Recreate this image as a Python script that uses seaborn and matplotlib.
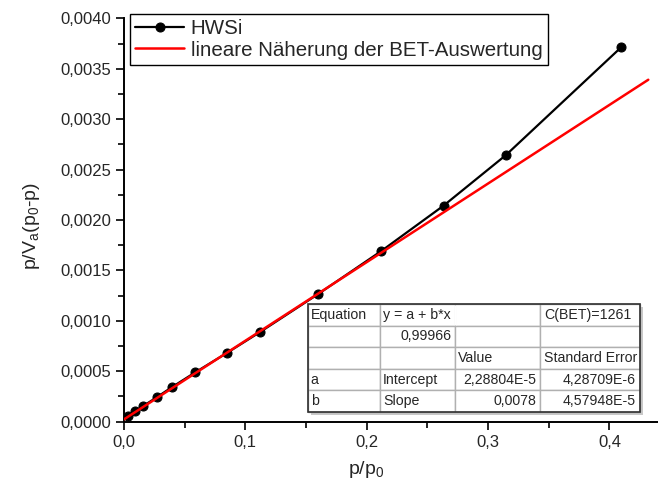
import numpy as np
import pandas as pd
import seaborn as sns
import matplotlib.pyplot as plt
import matplotlib.ticker as ticker
from matplotlib.patches import Rectangle

# BET data
rel_pressure = [0.0036, 0.0091, 0.0159, 0.0270, 0.0393, 0.0588, 0.0852,
                0.1122, 0.1597, 0.2120, 0.2633, 0.3145, 0.4096]
bet_value = [0.0000566, 0.000103, 0.000156, 0.000242, 0.000341, 0.000490, 0.000685,
             0.000890, 0.001264, 0.001693, 0.002143, 0.002643, 0.003714]

# linear fit from the table
fit_intercept = 2.28804e-5
fit_slope = 0.0078
fit_x = [0.0, 0.432]

table_rows = [
    ["Equation", "y = a + b*x", "", "C(BET)=1261"],
    ["", "0,99966", "", ""],
    ["", "", "Value", "Standard Error"],
    ["a", "Intercept", "2,28804E-5", "4,28709E-6"],
    ["b", "Slope", "0,0078", "4,57948E-5"],
]

df = pd.DataFrame({"x": rel_pressure, "y": bet_value})
df_fit = pd.DataFrame({"x": fit_x})
df_fit["y"] = fit_intercept + fit_slope * df_fit["x"]

sns.set_theme(style="ticks")
plt.rcParams['font.family'] = ['Liberation Sans', 'DejaVu Sans']
plt.rcParams['mathtext.default'] = 'regular'

fig = plt.figure(figsize=(6.58, 4.92), dpi=100)
ax = fig.add_axes([0.1884, 0.1429, 0.8116, 0.8195])

sns.lineplot(data=df, x="x", y="y", color='black', marker='o', markersize=6.5,
             markeredgecolor='black', linewidth=1.6, label="HWSi", ax=ax, zorder=3)
sns.lineplot(data=df_fit, x="x", y="y", color='#ff0000', linewidth=1.8,
             label="lineare Näherung der BET-Auswertung", ax=ax, zorder=4)

ax.set_xlim(0, 0.44)
ax.set_ylim(0, 0.004)
ax.xaxis.set_major_locator(ticker.MultipleLocator(0.1))
ax.xaxis.set_minor_locator(ticker.MultipleLocator(0.05))
ax.yaxis.set_major_locator(ticker.MultipleLocator(0.0005))
ax.yaxis.set_minor_locator(ticker.MultipleLocator(0.00025))
ax.xaxis.set_major_formatter(ticker.FuncFormatter(lambda v, p: f"{v:.1f}".replace('.', ',')))
ax.yaxis.set_major_formatter(ticker.FuncFormatter(lambda v, p: f"{v:.4f}".replace('.', ',')))

for s in ['top', 'right']:
    ax.spines[s].set_visible(False)
for s in ['left', 'bottom']:
    ax.spines[s].set_linewidth(1.4)
    ax.spines[s].set_color('black')
ax.tick_params(which='major', direction='out', length=6, width=1.2, labelsize=12, pad=3.5, color='black')
ax.tick_params(which='minor', direction='out', length=4, width=1.2, color='black')

ax.set_xlabel("p/p$_0$", fontsize=14)
ax.set_ylabel("p/V$_a$(p$_0$-p)", fontsize=14)
ax.xaxis.set_label_coords(0.453, -0.093)
ax.yaxis.set_label_coords(-0.1536, 0.485)

leg = ax.legend(loc='upper left', bbox_to_anchor=(130 / 658, 1 - 14 / 492),
                bbox_transform=fig.transFigure, borderaxespad=0, fontsize=14.8,
                frameon=True, fancybox=False, framealpha=1, edgecolor='black',
                borderpad=0.25, labelspacing=0.12, handlelength=2.4, handletextpad=0.3)
leg.get_frame().set_linewidth(1.0)

# fit result table
tb_box = [0.3446, 0.024, 0.6217, 0.2679]
col_w = np.array([72, 75, 85, 100]) / 332
tab = ax.table(cellText=table_rows, colWidths=list(col_w), bbox=tb_box, zorder=6)
tab.auto_set_font_size(False)
tab.set_fontsize(10.2)
right_cells = {(1, 1), (3, 2), (3, 3), (4, 2), (4, 3)}
for (r, c), cell in tab.get_celld().items():
    cell.set_edgecolor('#b0b0b0')
    cell.set_facecolor('white')
    cell.set_linewidth(1.0)
    cell.PAD = 0.04
    cell.get_text().set_ha('right' if (r, c) in right_cells else 'left')
    cell._loc = 'right' if (r, c) in right_cells else 'left'

# shadow + dark border
x0, y0, w, h = tb_box
ax.add_patch(Rectangle((x0 + 0.005, y0 - 0.007), w, h, transform=ax.transAxes,
                       facecolor='#c8c8c8', edgecolor='none', zorder=5, clip_on=False))
# join the two cells of the equation
div_x = x0 + w * (col_w[0] + col_w[1])
ax.plot([div_x, div_x], [y0 + h * 0.8 + 0.002, y0 + h - 0.002], transform=ax.transAxes,
        color='white', linewidth=2, zorder=7, solid_capstyle='butt')
ax.add_patch(Rectangle((x0, y0), w, h, transform=ax.transAxes, facecolor='none',
                       edgecolor='#303030', linewidth=1.2, zorder=8, clip_on=False))

plt.savefig("out.png", dpi=100)
